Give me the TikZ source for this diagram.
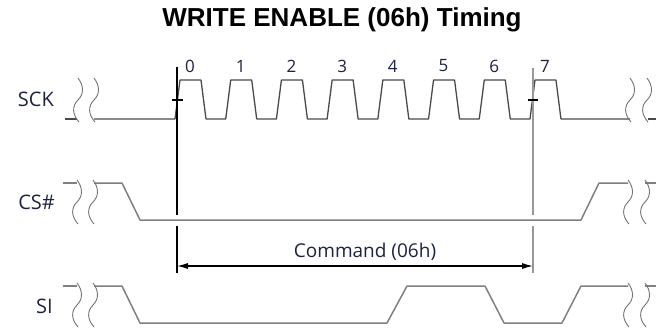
\documentclass[tikz,border=0pt]{standalone}
\usepackage{fontspec}
\setmainfont{Open Sans}
\newfontfamily\titlefont{Liberation Sans}
\usetikzlibrary{arrows.meta}
\definecolor{txtcol}{HTML}{1C2340}
\definecolor{clkcol}{HTML}{4A4A4A}
\definecolor{sigcol}{HTML}{808080}
\definecolor{refcol}{HTML}{999999}
\tikzset{
  clk/.style={draw=clkcol, line width=1.3pt, line join=round},
  sig/.style={draw=sigcol, line width=1.5pt, line join=round},
  brkline/.style={draw=sigcol!90!black, line width=0.9pt},
  lbl/.style={font=\fontsize{20}{22}\selectfont, text=txtcol, inner sep=0pt, anchor=east},
  num/.style={font=\fontsize{17}{19}\selectfont, text=txtcol, inner sep=0pt},
  marker/.style={draw=black, line width=1.1pt},
  marker2/.style={draw=refcol, line width=1.6pt},
  dim/.style={draw=black, line width=1.1pt, {Latex[length=11pt,width=6pt]}-{Latex[length=11pt,width=6pt]}},
  brk/.pic={\draw[brkline] (0,-22) .. controls (6,-14) and (6,-6) .. (0,0) .. controls (-6,6) and (-6,14) .. (1,22);}
}
\begin{document}
\begin{tikzpicture}[x=1pt,y=-1pt]
\useasboundingbox (0,0) rectangle (656,329);
% title
\node[font=\titlefont\bfseries\fontsize{26}{28}\selectfont, inner sep=0pt, anchor=base] (title) at (342,27) {WRITE ENABLE (06h) Timing};
% labels
\node[lbl] (sck) at (54,99) {SCK};
\node[lbl] (cs) at (55,202) {CS\#};
\node[lbl] (si) at (53,306) {SI};
% clock numbers
\foreach \k in {0,...,7} {
  \node[num] (n\k) at ({190+\k*50.71},66) {\k};
}
% SCK waveform
\draw[clk] (65,119) -- (77,119);
\draw[clk] (94,119) \foreach \k in {0,...,7} { -- ({175+\k*50.71},119) -- ({180+\k*50.71},80) -- ({201+\k*50.71},80) -- ({206+\k*50.71},119) } -- (630,119);
\draw[clk] (648,119) -- (656,119);
\pic at (78,100) {brk};
\pic at (94,100) {brk};
\pic at (630,100) {brk};
\pic at (647,100) {brk};
% CS# waveform
\draw[sig] (63,183) -- (77,183);
\draw[sig] (94,183) -- (122,183) -- (140,220) -- (581,220) -- (599,183) -- (628,183);
\draw[sig] (645,183) -- (656,183);
\pic at (77,202) {brk};
\pic at (93,202) {brk};
\pic at (628,202) {brk};
\pic at (645,202) {brk};
% SI waveform
\draw[sig] (63,286) -- (77,286);
\draw[sig] (94,286) -- (122,286) -- (140,323) -- (387,323) -- (407,286) -- (485,286) -- (504,323) -- (562,323) -- (581,286) -- (628,286);
\draw[sig] (645,286) -- (656,286);
\pic at (77,305) {brk};
\pic at (93,305) {brk};
\pic at (628,305) {brk};
\pic at (645,305) {brk};
% reference lines
\coordinate (l1) at (177,67);
\coordinate (l2) at (177,215);
\coordinate (l3) at (177,226);
\coordinate (l4) at (177,273);
\coordinate (r1) at (533,68);
\coordinate (r2) at (533,215);
\coordinate (r3) at (533,226);
\coordinate (r4) at (533,273);
\draw[marker] (l1) -- (l2);
\draw[marker] (l3) -- (l4);
\draw[marker2] (r1) -- (r2);
\draw[marker2] (r3) -- (r4);
\draw[marker] (172,100) -- (183,100);
\draw[marker] (528,100) -- (538,100);
% command arrow
\coordinate (al) at (177,266);
\coordinate (ar) at (533,266);
\draw[dim] (al) -- (ar);
\node[font=\fontsize{19}{21}\selectfont, text=txtcol, inner sep=0pt] (cmd) at (365,252) {Command (06h)};
\end{tikzpicture}
\end{document}
